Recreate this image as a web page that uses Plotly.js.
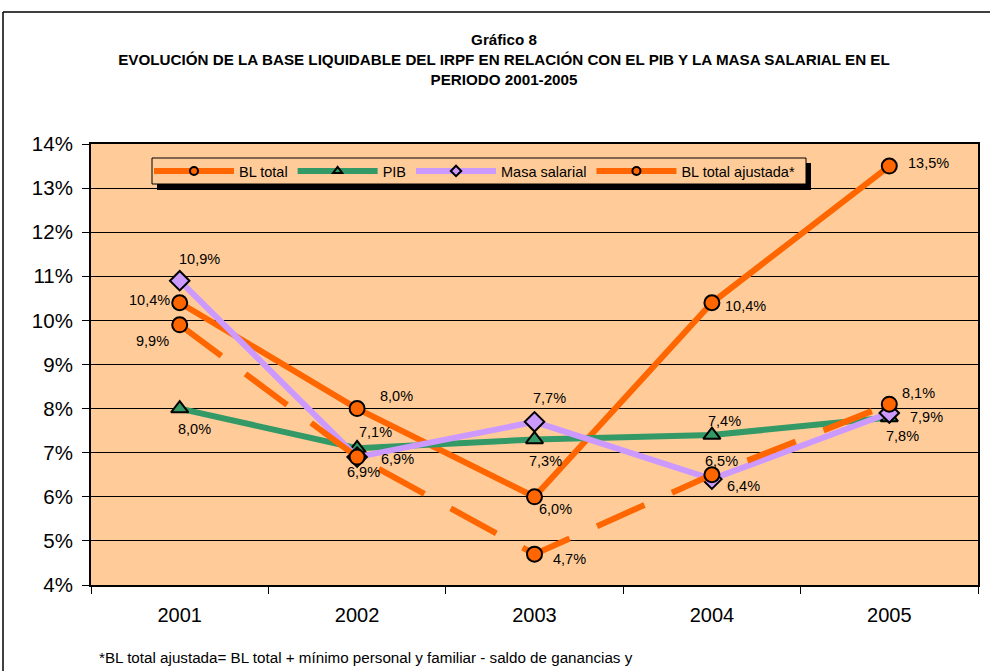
<!DOCTYPE html>
<html>
<head>
<meta charset="utf-8">
<script src="https://cdn.plot.ly/plotly-3.0.1.min.js"></script>
<style>
  html, body { margin: 0; padding: 0; background: #ffffff; }
  #chart { width: 990px; height: 671px; }
</style>
</head>
<body>
<div id="chart"></div>
<script>
// ---- data ----
const years = ['2001', '2002', '2003', '2004', '2005'];
const blTotal = [10.4, 8.0, 6.0, 10.4, 13.5];
const pib = [8.0, 7.1, 7.3, 7.4, 7.8];
const masaSalarial = [10.9, 6.9, 7.7, 6.4, 7.9];
const blAjustada = [9.9, 6.9, 4.7, 6.5, 8.1];
const seriesNames = ['BL total', 'PIB', 'Masa salarial', 'BL total ajustada*'];
const yTickValues = [4, 5, 6, 7, 8, 9, 10, 11, 12, 13, 14];
const yTickLabels = yTickValues.map(v => v + '%');

const titleLines = [
  'Gráfico 8',
  'EVOLUCIÓN DE LA BASE LIQUIDABLE DEL IRPF EN RELACIÓN CON EL PIB Y LA MASA SALARIAL EN EL',
  'PERIODO 2001-2005'
];
const footnote = '*BL total ajustada= BL total + mínimo personal y familiar - saldo de ganancias y';

// ---- style ----
const FONT = 'Liberation Sans, Arial, Helvetica, sans-serif';
const ORANGE = '#FF6600', GREEN = '#339966', LAVENDER = '#CC99FF', PEACH = '#FFCC99';

// label offsets in pixels [dx, dy(up)]
const offBlTotal = [[-30, 3], [39, 13], [21, -12], [34, -3], [39, 3]];
const offPib = [[15, -20], [18, 16], [11, -22], [13, 14], [13, -19]];
const offMasa = [[20, 22], [40, -2], [15, 24], [32, -7], [37, -4]];
const offAjust = [[-27, -16], [6, -15], [35, -5], [10, 14], [29, 11]];

// plot-area geometry (pixels)
const W = 990, H = 671;
const M = { l: 91, r: 12, t: 144, b: 86 };
const PW = W - M.l - M.r, PH = H - M.t - M.b;
const px = v => (v - M.l) / PW;
const py = v => (H - M.b - v) / PH;

const fmt = v => v.toFixed(1).replace('.', ',') + '%';

function series(name, vals, color, symbol, dash) {
  return {
    type: 'scatter', mode: 'lines+markers', name: name, showlegend: false,
    x: years, y: vals,
    line: { color: color, width: 6, dash: dash || 'solid' },
    marker: { symbol: symbol, size: 15, color: color, line: { color: '#000', width: 2 } },
    hoverinfo: 'skip'
  };
}
// legend-only entries (no data points) with the smaller legend markers
function legendEntry(name, color, symbol, dash) {
  return {
    type: 'scatter', mode: 'lines+markers', name: name, showlegend: true,
    x: [null], y: [null],
    line: { color: color, width: 6, dash: dash || 'solid' },
    marker: { symbol: symbol, size: 8, color: color, line: { color: '#000', width: 2 } },
    hoverinfo: 'skip'
  };
}

const traces = [
  series(seriesNames[0], blTotal, ORANGE, 'circle'),
  series(seriesNames[1], pib, GREEN, 'triangle-up'),
  series(seriesNames[2], masaSalarial, LAVENDER, 'diamond'),
  series(seriesNames[3], blAjustada, ORANGE, 'circle', '52px,30px'),
  legendEntry(seriesNames[0], ORANGE, 'circle'),
  legendEntry(seriesNames[1], GREEN, 'triangle-up'),
  legendEntry(seriesNames[2], LAVENDER, 'diamond'),
  legendEntry(seriesNames[3], ORANGE, 'circle')
];

const annotations = [];
function addLabels(vals, offs) {
  vals.forEach((v, i) => {
    annotations.push({
      x: i, y: v, xref: 'x', yref: 'y', text: fmt(v), showarrow: false,
      xshift: offs[i][0], yshift: offs[i][1],
      font: { family: FONT, size: 14.5, color: '#000' }
    });
  });
}
addLabels(blTotal, offBlTotal);
addLabels(pib, offPib);
addLabels(masaSalarial, offMasa);
addLabels(blAjustada, offAjust);

annotations.push({
  xref: 'paper', yref: 'paper', x: px(97), y: py(657), xanchor: 'left', yanchor: 'middle',
  text: footnote, showarrow: false, font: { family: FONT, size: 15.2, color: '#000' }
});

const shapes = [
  // outer frame (left and top edges)
  { type: 'line', xref: 'paper', yref: 'paper', x0: px(3), x1: px(3), y0: py(12), y1: py(700),
    line: { color: '#000', width: 1.5 } },
  { type: 'line', xref: 'paper', yref: 'paper', x0: px(3), x1: px(1000), y0: py(12), y1: py(12),
    line: { color: '#000', width: 1.5 } },
  // legend shadow + box
  { type: 'rect', xref: 'paper', yref: 'paper', layer: 'above', x0: px(157), x1: px(811), y0: py(163), y1: py(190),
    fillcolor: '#000', line: { width: 0 } },
  { type: 'rect', xref: 'paper', yref: 'paper', layer: 'above', x0: px(152), x1: px(806), y0: py(158), y1: py(184),
    fillcolor: PEACH, line: { color: '#000', width: 1 } }
];

const layout = {
  width: W, height: H,
  margin: M,
  paper_bgcolor: '#ffffff',
  plot_bgcolor: PEACH,
  font: { family: FONT, color: '#000' },
  title: {
    text: titleLines.join('<br>'),
    font: { family: FONT, size: 15.2, weight: 'bold', color: '#000' },
    xref: 'container', yref: 'container', x: 504 / W, xanchor: 'center',
    y: 1 - 45 / H, yanchor: 'top'
  },
  showlegend: true,
  legend: {
    orientation: 'h', x: px(149), y: py(171), xanchor: 'left', yanchor: 'middle',
    bgcolor: 'rgba(0,0,0,0)', borderwidth: 0, itemwidth: 80,
    font: { family: FONT, size: 14.5, color: '#000' }, tracegroupgap: 0
  },
  xaxis: {
    type: 'category', range: [-0.5, 4.5], tickson: 'boundaries',
    ticks: 'outside', ticklen: 7, tickwidth: 1, tickcolor: '#000',
    showline: true, linecolor: '#000', linewidth: 2, mirror: true,
    showgrid: false, zeroline: false, ticklabelstandoff: 11,
    tickfont: { family: FONT, size: 20, color: '#000' }, fixedrange: true
  },
  yaxis: {
    range: [4, 14], tickmode: 'array', tickvals: yTickValues, ticktext: yTickLabels,
    ticks: 'outside', ticklen: 7, tickwidth: 1, tickcolor: '#000',
    showline: true, linecolor: '#000', linewidth: 2, mirror: true,
    showgrid: true, gridcolor: '#000', gridwidth: 1, zeroline: false,
    ticklabelstandoff: 5,
    tickfont: { family: FONT, size: 20.5, color: '#000' }, fixedrange: true
  },
  shapes: shapes,
  annotations: annotations
};

Plotly.newPlot('chart', traces, layout, { staticPlot: true, displayModeBar: false });
</script>
</body>
</html>
